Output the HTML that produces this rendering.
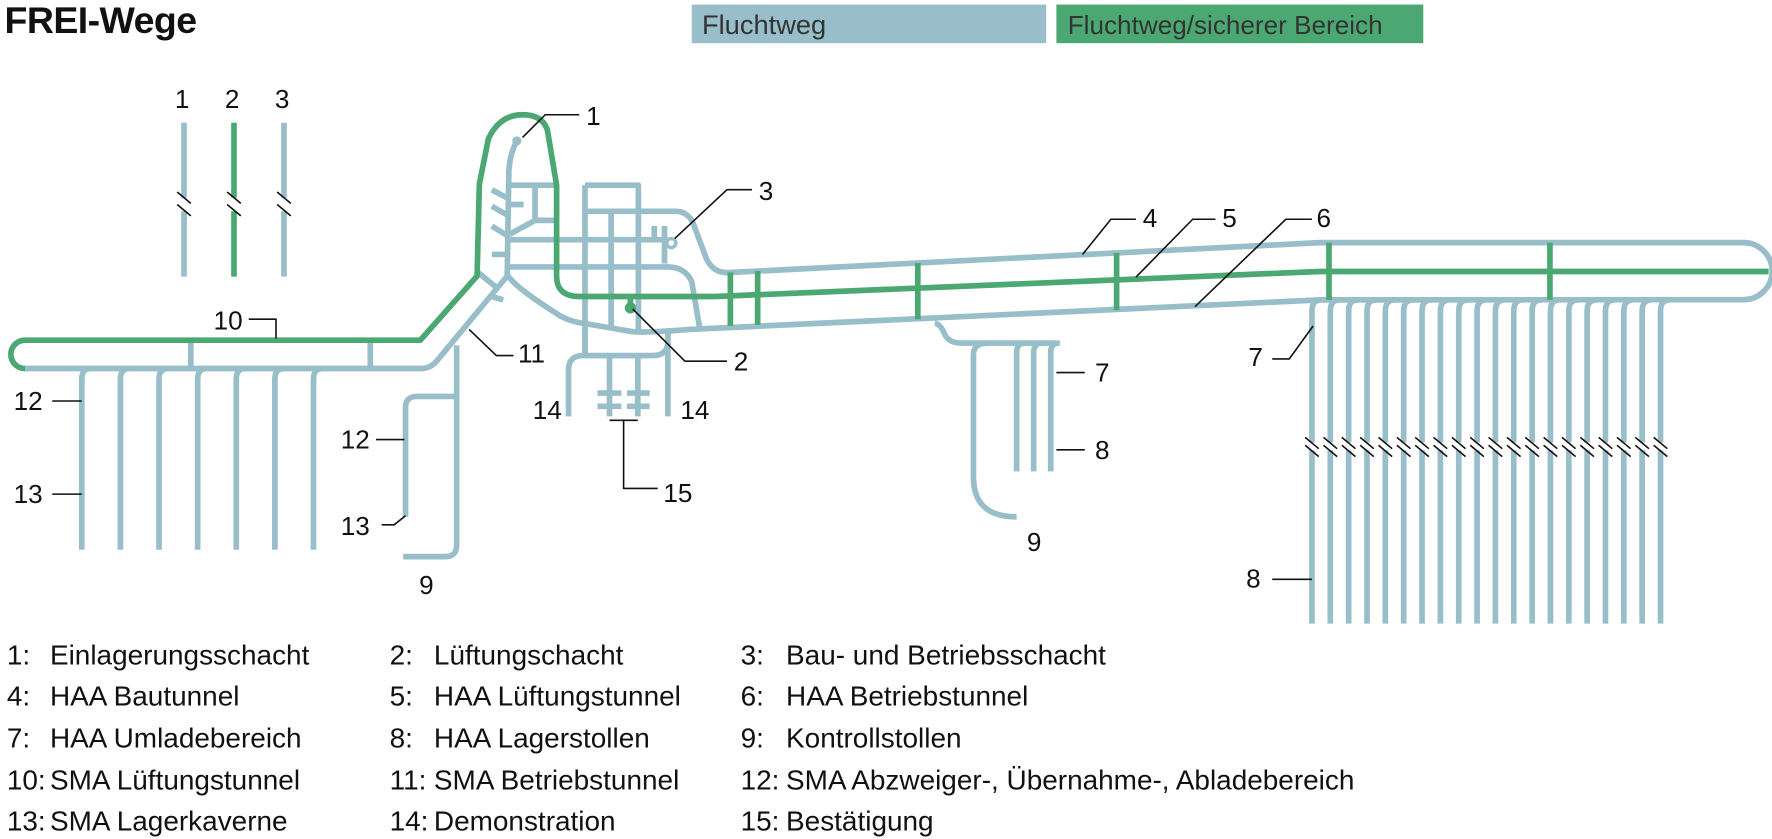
<!DOCTYPE html>
<html><head><meta charset="utf-8"><style>
html,body{margin:0;padding:0;background:#fff;}
svg{display:block;}
text{font-family:"Liberation Sans",Arial,sans-serif;fill:#111;}
</style></head><body>
<svg width="1772" height="839" viewBox="0 0 1560 738.6" xmlns="http://www.w3.org/2000/svg">
<rect x="0" y="0" width="1560" height="739" fill="#fff"/>
<text x="4" y="29" font-size="33" font-weight="bold" style="letter-spacing:-0.5px">FREI-Wege</text>
<rect x="609" y="4" width="312" height="34" fill="#98bec9"/>
<rect x="930" y="4" width="323" height="34" fill="#4ba872"/>
<text x="618" y="30" font-size="24" style="fill:#333">Fluchtweg</text>
<text x="940" y="30" font-size="23" style="fill:#333">Fluchtweg/sicherer Bereich</text>

<g fill="none" stroke="#98bec9" stroke-width="5" stroke-linecap="butt" stroke-linejoin="round">
<path d="M162,108 V243.5 M250,108 V243.5"/>
<path d="M22,324.4 L372,324.4 Q380,324 386,316 L446.5,243"/>
<path d="M168,300 V324 M326,300 V324"/>
<path d="M80,324.4 Q72,324.4 72,334 V484 M114,324.4 Q106,324.4 106,334 V484 M148,324.4 Q140,324.4 140,334 V484 M182,324.4 Q174,324.4 174,334 V484 M216,324.4 Q208,324.4 208,334 V484 M250,324.4 Q242,324.4 242,334 V484 M284,324.4 Q276,324.4 276,334 V484"/>
<path d="M402,304 V480 Q402,490 392,490 L355,490"/>
<path d="M357,455 V359 Q357,349 367,349 L402,349"/>
<path d="M421,240 L437,253 M433,261 L443,264"/>
<path d="M455,124 Q449,135 448,150 L446.5,243"/>
<circle cx="455" cy="124" r="4" fill="#98bec9" stroke="none"/>
<path d="M446,163 H492 M446,180 H461 M446,211 H588 M446,224 H433 M446,174 L433,167 M446,189 L433,181.5 M446,207 L433,199 M449,206 L471,194 H490 M471,163 V194"/>
<path d="M446,235 H588 Q603,235 609,248 L616,289"/>
<path d="M515,163 H562 V290 M515,163 V313 M515,186 H595 Q605,186 610,196 L622,228 Q628,240 640,240 L1162,213.6 L1535,213.6 A25,25 0 0 1 1535,263.8 L1162,264 L607,290 Q570,293 557,292 L516,285 Q500,283 490,276 Q452,252 446,241"/>
<path d="M538,186 V290 M576,199 V210 M585,199 V232"/>
<circle cx="591" cy="214" r="4" stroke-width="3"/>
<path d="M515,290 V313 M500.5,366.5 V326 Q500.5,313 513,313 H575 Q588,313 588,300 V290 M588,300 V366.5"/>
<path d="M536.6,313 V366.5 M561.5,313 V366.5 M526,346 H547 M526,357.7 H547 M552,346 H572 M552,357.7 H572"/>
<path d="M823,284.6 Q828,285 832,295 Q836,302 846,302 L930,302"/>
<path d="M870,302 Q857,302 857,312 L857,420 Q857,455 895,455"/>
<path d="M903,302 Q895,302 895,310 V415 M918,302 Q910,302 910,310 V415 M933,302 Q925,302 925,310 V415"/>
<g id="f"><path d="M1163,264 Q1155,264 1155,274 V549"/></g>
<use href="#f" x="16.15"/><use href="#f" x="32.3"/><use href="#f" x="48.45"/><use href="#f" x="64.6"/><use href="#f" x="80.75"/><use href="#f" x="96.9"/><use href="#f" x="113.05"/><use href="#f" x="129.2"/><use href="#f" x="145.35"/><use href="#f" x="161.5"/><use href="#f" x="177.65"/><use href="#f" x="193.8"/><use href="#f" x="209.95"/><use href="#f" x="226.1"/><use href="#f" x="242.25"/><use href="#f" x="258.4"/><use href="#f" x="274.55"/><use href="#f" x="290.7"/><use href="#f" x="306.85"/>
</g>

<g fill="none" stroke="#4ba872" stroke-width="5" stroke-linejoin="round">
<path d="M206,108 V243.5"/>
<path d="M22,324.4 A12.4,12.4 0 0 1 22,299.5 L370,299.5 L420,243 L422,162 L430,122 Q440,101 460,101 Q478,101 482,115 L490,163 L490,243 Q490,261 510,261 L630,261 L1162,239 L1557,239"/>
<path d="M643,239.8 V287 M667,238.6 V286 M808,231.5 V281 M983,222.7 V273 M1170,213.6 V264 M1364.5,213.6 V264"/>
<path d="M555,261 V271"/>
<circle cx="555" cy="271" r="5" fill="#4ba872" stroke="none"/>
</g>

<g stroke="#fff" stroke-width="8">
<path d="M162,174 V186 M206,174 V186 M250,174 V186"/>
<path d="M1150,393 H1475" stroke-width="7"/>
</g>
<g stroke="#111" stroke-width="1.4" fill="none">
<path d="M156,169 L168,179 M156,180 L168,190 M200,169 L212,179 M200,180 L212,190 M244,169 L256,179 M244,180 L256,190"/>
<path id="br" d="M1149,385 L1161,395 M1149,392 L1161,402"/>
<use href="#br" x="16.15"/><use href="#br" x="32.3"/><use href="#br" x="48.45"/><use href="#br" x="64.6"/><use href="#br" x="80.75"/><use href="#br" x="96.9"/><use href="#br" x="113.05"/><use href="#br" x="129.2"/><use href="#br" x="145.35"/><use href="#br" x="161.5"/><use href="#br" x="177.65"/><use href="#br" x="193.8"/><use href="#br" x="209.95"/><use href="#br" x="226.1"/><use href="#br" x="242.25"/><use href="#br" x="258.4"/><use href="#br" x="274.55"/><use href="#br" x="290.7"/><use href="#br" x="306.85"/>
<path d="M219,281 H243 V298"/>
<path d="M460,121 L480,101 H510"/>
<path d="M594,210 L640,167 H662"/>
<path d="M953,224 L978,193 H1000"/>
<path d="M1000,244 L1050,193 H1070"/>
<path d="M1052,270 L1132,193 H1155"/>
<path d="M557,272 L603,318 H640"/>
<path d="M413,290 L437,313 H452"/>
<path d="M1156,287 L1135,316 H1120"/>
<path d="M930,328 H955 M930,396 H955"/>
<path d="M1120,510 H1155"/>
<path d="M46,353 H72 M46,435 H72"/>
<path d="M331,387 H356 M336,462 H347 L357,454"/>
<path d="M536.6,370 H561.5 M549,370 V430 H579"/>
</g>

<g font-size="23">
<text x="154" y="95">1</text><text x="198" y="95">2</text><text x="242" y="95">3</text>
<text x="188" y="290">10</text>
<text x="516" y="110">1</text>
<text x="668" y="176">3</text>
<text x="1006" y="200">4</text>
<text x="1076" y="200">5</text>
<text x="1159" y="200">6</text>
<text x="646" y="326">2</text>
<text x="456" y="319">11</text>
<text x="1099" y="322">7</text>
<text x="964" y="336">7</text>
<text x="964" y="404">8</text>
<text x="904" y="485">9</text>
<text x="1097" y="517">8</text>
<text x="369" y="523">9</text>
<text x="12" y="361">12</text>
<text x="12" y="443">13</text>
<text x="300" y="395">12</text>
<text x="300" y="471">13</text>
<text x="469" y="369">14</text>
<text x="599" y="369">14</text>
<text x="584" y="442">15</text>
</g>

<g font-size="24.6">
<text x="6" y="585">1:</text><text x="44" y="585">Einlagerungsschacht</text>
<text x="343" y="585">2:</text><text x="382" y="585">Lüftungschacht</text>
<text x="652" y="585">3:</text><text x="692" y="585">Bau- und Betriebsschacht</text>
<text x="6" y="621">4:</text><text x="44" y="621">HAA Bautunnel</text>
<text x="343" y="621">5:</text><text x="382" y="621">HAA Lüftungstunnel</text>
<text x="652" y="621">6:</text><text x="692" y="621">HAA Betriebstunnel</text>
<text x="6" y="658">7:</text><text x="44" y="658">HAA Umladebereich</text>
<text x="343" y="658">8:</text><text x="382" y="658">HAA Lagerstollen</text>
<text x="652" y="658">9:</text><text x="692" y="658">Kontrollstollen</text>
<text x="6" y="695">10:</text><text x="44" y="695">SMA Lüftungstunnel</text>
<text x="343" y="695">11:</text><text x="382" y="695">SMA Betriebstunnel</text>
<text x="652" y="695">12:</text><text x="692" y="695">SMA Abzweiger-, Übernahme-, Abladebereich</text>
<text x="6" y="731">13:</text><text x="44" y="731">SMA Lagerkaverne</text>
<text x="343" y="731">14:</text><text x="382" y="731">Demonstration</text>
<text x="652" y="731">15:</text><text x="692" y="731">Bestätigung</text>
</g>
</svg>
</body></html>
